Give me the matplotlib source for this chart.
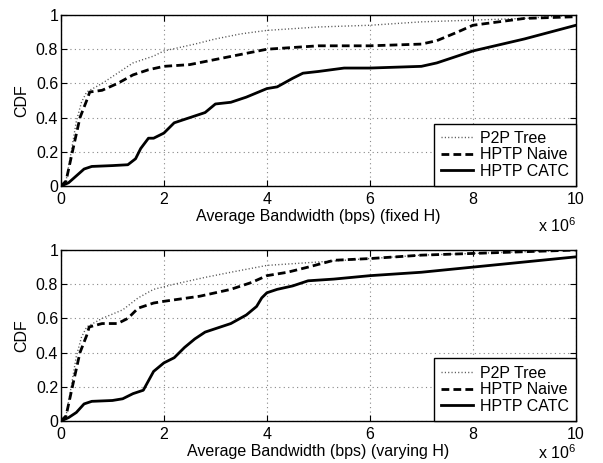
import numpy as np
import matplotlib
matplotlib.use('Agg')
import matplotlib.pyplot as plt

plt.rcParams['font.family'] = ['Liberation Sans', 'DejaVu Sans']
plt.rcParams['mathtext.default'] = 'regular'

# bandwidth in units of 1e6 bps, CDF values
# fixed H
tree_fx = [0, 0.1, 0.2, 0.3, 0.4, 0.5, 0.8, 1.1, 1.4, 1.8, 2.0, 2.6, 3.0, 3.5, 4.0, 4.5, 5.0, 6.0, 7.0, 8.0, 9.0, 10.0]
tree_fy = [0, 0.03, 0.2, 0.38, 0.49, 0.55, 0.60, 0.66, 0.72, 0.76, 0.79, 0.83, 0.86, 0.89, 0.91, 0.92, 0.93, 0.94, 0.96, 0.97, 0.98, 1.0]
naive_fx = [0, 0.1, 0.23, 0.37, 0.5, 0.56, 0.8, 1.1, 1.4, 1.7, 2.0, 2.5, 3.0, 3.5, 4.0, 4.5, 5.0, 6.0, 7.0, 7.3, 7.7, 8.0, 8.5, 9.0, 10.0]
naive_fy = [0, 0.03, 0.21, 0.40, 0.50, 0.55, 0.56, 0.60, 0.65, 0.68, 0.70, 0.71, 0.74, 0.77, 0.80, 0.81, 0.82, 0.82, 0.83, 0.85, 0.90, 0.94, 0.96, 0.98, 0.99]
catc_fx = [0, 0.15, 0.3, 0.45, 0.6, 1.0, 1.3, 1.45, 1.55, 1.7, 1.8, 2.0, 2.2, 2.5, 2.8, 3.0, 3.3, 3.6, 4.0, 4.2, 4.5, 4.7, 5.0, 5.5, 6.0, 7.0, 7.3, 8.0, 9.0, 10.0]
catc_fy = [0, 0.02, 0.06, 0.10, 0.115, 0.12, 0.125, 0.16, 0.22, 0.28, 0.28, 0.31, 0.37, 0.40, 0.43, 0.48, 0.49, 0.52, 0.57, 0.58, 0.63, 0.66, 0.67, 0.69, 0.69, 0.70, 0.72, 0.79, 0.86, 0.94]

# varying H
tree_vx = [0, 0.1, 0.2, 0.3, 0.4, 0.5, 0.8, 1.2, 1.5, 1.8, 2.2, 2.8, 3.3, 4.0, 4.5, 5.0, 6.0, 7.0, 8.0, 9.0, 10.0]
tree_vy = [0, 0.03, 0.2, 0.38, 0.49, 0.55, 0.60, 0.65, 0.72, 0.77, 0.80, 0.84, 0.87, 0.91, 0.92, 0.93, 0.95, 0.97, 0.98, 0.99, 1.0]
naive_vx = [0, 0.1, 0.23, 0.37, 0.5, 0.55, 0.8, 1.1, 1.3, 1.5, 1.8, 2.0, 2.7, 3.3, 3.7, 4.0, 4.4, 4.8, 5.3, 6.0, 7.0, 8.0, 9.0, 10.0]
naive_vy = [0, 0.03, 0.21, 0.40, 0.50, 0.55, 0.57, 0.57, 0.60, 0.66, 0.69, 0.70, 0.73, 0.77, 0.81, 0.85, 0.87, 0.90, 0.94, 0.95, 0.97, 0.98, 0.99, 1.0]
catc_vx = [0, 0.15, 0.3, 0.45, 0.6, 1.0, 1.2, 1.4, 1.6, 1.8, 2.0, 2.2, 2.4, 2.6, 2.8, 3.1, 3.3, 3.6, 3.8, 3.9, 4.0, 4.2, 4.5, 4.8, 5.3, 6.0, 7.0, 8.0, 9.0, 10.0]
catc_vy = [0, 0.02, 0.05, 0.10, 0.115, 0.12, 0.13, 0.16, 0.18, 0.29, 0.34, 0.37, 0.43, 0.48, 0.52, 0.55, 0.57, 0.62, 0.67, 0.72, 0.75, 0.77, 0.79, 0.82, 0.83, 0.85, 0.87, 0.90, 0.93, 0.96]

labels = ['P2P Tree', 'HPTP Naive', 'HPTP CATC']
xlabels = ['Average Bandwidth (bps) (fixed H)', 'Average Bandwidth (bps) (varying H)']
fs = 11.5

fig = plt.figure(figsize=(6.03, 4.63), dpi=100)
ax1 = fig.add_axes([0.101, 0.598, 0.854, 0.3696])
ax2 = fig.add_axes([0.101, 0.0907, 0.854, 0.3693])

panels = [(ax1, tree_fx, tree_fy, naive_fx, naive_fy, catc_fx, catc_fy, xlabels[0], -0.175),
          (ax2, tree_vx, tree_vy, naive_vx, naive_vy, catc_vx, catc_vy, xlabels[1], -0.13)]

for ax, tx, ty, nx, ny, cx, cy, xl, offy in panels:
  ax.plot(np.array(tx)*1e6, ty, color='#555555', ls=(0, (0.8, 1.6)), lw=1.0, label=labels[0])
  ax.plot(np.array(nx)*1e6, ny, color='black', ls=(0, (2.8, 1.5)), lw=2.0, label=labels[1])
  ax.plot(np.array(cx)*1e6, cy, color='black', ls='-', lw=2.0, label=labels[2])
  ax.set_xlim(0, 1e7)
  ax.set_ylim(0, 1)
  ax.set_xticks(np.arange(0, 11, 2)*1e6)
  ax.set_xticklabels(['0', '2', '4', '6', '8', '10'])
  ax.set_yticks([0, 0.2, 0.4, 0.6, 0.8, 1])
  ax.set_yticklabels(['0', '0.2', '0.4', '0.6', '0.8', '1'])
  ax.tick_params(direction='in', length=4, labelsize=fs, top=True, right=True)
  ax.tick_params(axis='x', pad=4.5)
  ax.tick_params(axis='y', pad=2)
  ax.grid(True, ls=(0, (1, 3)), color='#888888', lw=0.8)
  for s in ax.spines.values():
    s.set_linewidth(1.0)
  ax.set_xlabel(xl, fontsize=fs, labelpad=1)
  ax.set_ylabel('CDF', fontsize=fs, labelpad=5)
  ax.text(1.0, offy, 'x 10$^6$', transform=ax.transAxes, ha='right', va='top', fontsize=fs)
  leg = ax.legend(loc='lower right', borderaxespad=0, fancybox=False, fontsize=fs,
                  handlelength=2.0, handletextpad=0.4, borderpad=0.45, labelspacing=0.1, framealpha=1)
  leg.get_frame().set_edgecolor('black')
  leg.get_frame().set_linewidth(1.0)

fig.savefig('out.png', dpi=100)
